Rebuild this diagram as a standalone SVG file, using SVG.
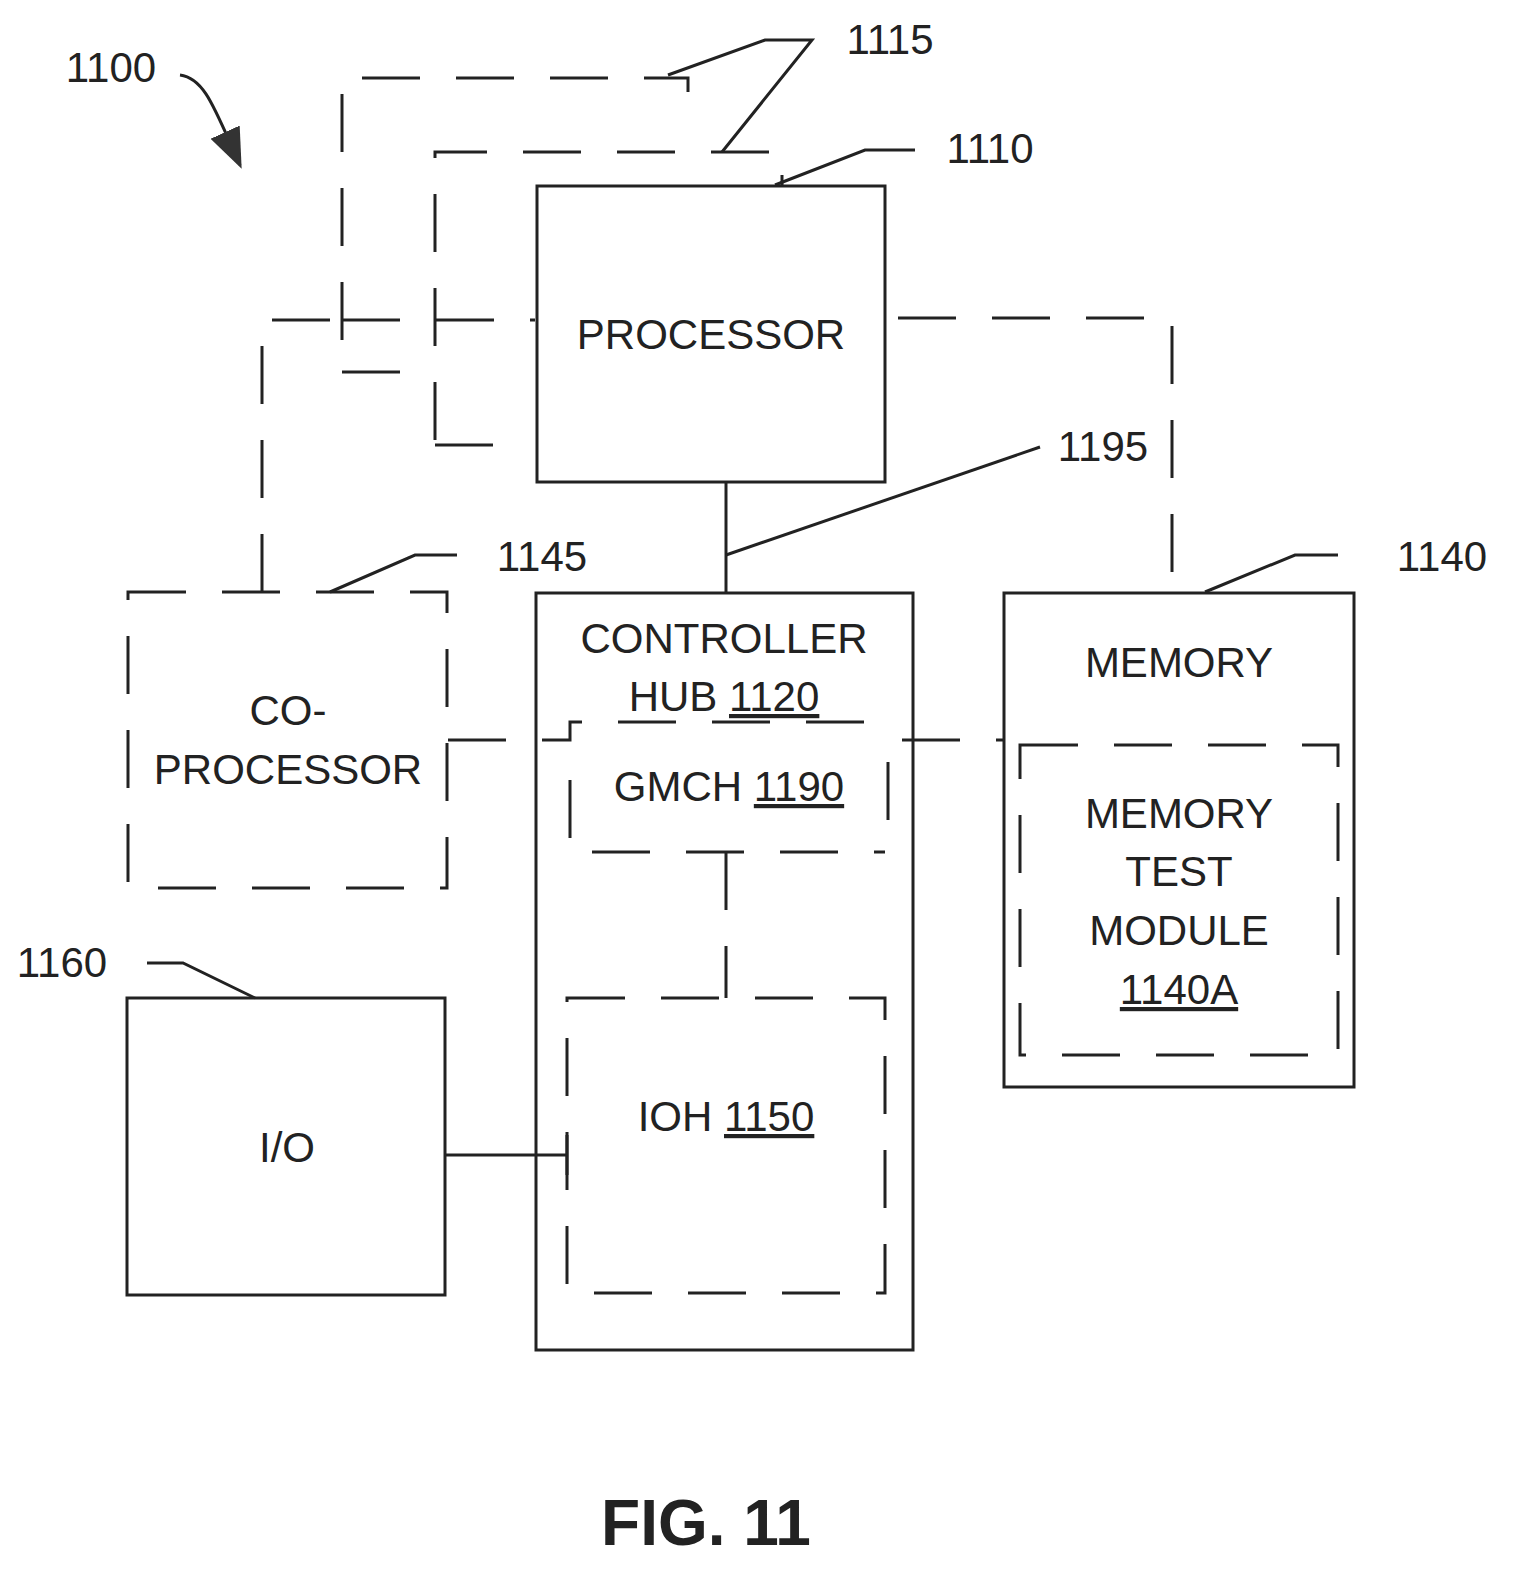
<svg xmlns="http://www.w3.org/2000/svg" width="1527" height="1591" viewBox="0 0 1527 1591">
<style>
.s{fill:none;stroke:#222;stroke-width:3}
.d{fill:none;stroke:#222;stroke-width:3;stroke-dasharray:58 36}
text{font-family:"Liberation Sans",Arial,sans-serif;font-size:42px;fill:#222;text-anchor:middle}
.l{text-anchor:start}
</style>
<defs><marker id="a" markerWidth="10" markerHeight="10" refX="9" refY="5" orient="auto" markerUnits="userSpaceOnUse" viewBox="0 0 10 10"><path d="M0,0L10,5L0,10z" fill="#222"/></marker>
<marker id="ah" viewBox="0 0 10 10" refX="9" refY="5" markerWidth="40" markerHeight="40" markerUnits="userSpaceOnUse" orient="auto"><path d="M0,1L10,5L0,9z" fill="#333"/></marker></defs>
<rect width="1527" height="1591" fill="#fff"/>
<g id="connectors">
<path class="d" d="M342,340V78H688V128"/>
<path class="d" d="M342,372H415"/>
<path class="d" d="M435,440V152H782V185"/>
<path class="d" d="M435,445H510"/>
<path class="d" d="M262,592V320H342"/>
<path class="d" d="M342,320H535"/>
<path class="d" d="M898,318H1172V592"/>
<path class="s" d="M726,483V592"/>
<path class="d" d="M448,740H570V722H865"/>
<path class="d" d="M570,780V852H885"/>
<path class="d" d="M888,820V740H1005"/>
<path class="d" d="M726,852V998"/>
<path class="s" d="M445,1155H567M567,1135V1175"/>
<path class="s" d="M726,555L1040,447"/>
<path class="s" d="M330,592L415,555H457"/>
<path class="s" d="M1205,592L1295,555H1338"/>
<path class="s" d="M255,998L183,963H147"/>
<path class="s" d="M775,185L865,150H915"/>
<path class="s" d="M668,75L765,40H812L722,152"/>
<path class="s" d="M180,75C205,78 215,110 240,165" marker-end="url(#ah)"/>
</g>
<g id="processor"><rect class="s" x="537" y="186" width="348" height="296"/><text x="711" y="349">PROCESSOR</text></g>
<g id="coprocessor"><rect class="d" x="128" y="592" width="319" height="296"/><text x="288" y="725">CO-</text><text x="288" y="784">PROCESSOR</text></g>
<g id="hub"><rect class="s" x="536" y="593" width="377" height="757"/><text x="724" y="653">CONTROLLER</text><text x="724" y="711">HUB <tspan text-decoration="underline">1120</tspan></text></g>
<g id="gmch"><text x="729" y="801">GMCH <tspan text-decoration="underline">1190</tspan></text></g>
<g id="ioh"><rect class="d" x="567" y="998" width="318" height="295"/><text x="726" y="1131">IOH <tspan text-decoration="underline">1150</tspan></text></g>
<g id="io"><rect class="s" x="127" y="998" width="318" height="297"/><text x="287" y="1162">I/O</text></g>
<g id="memory"><rect class="s" x="1004" y="593" width="350" height="494"/><text x="1179" y="677">MEMORY</text>
<rect class="d" x="1020" y="745" width="318" height="310"/>
<text x="1179" y="828">MEMORY</text><text x="1179" y="886">TEST</text><text x="1179" y="945">MODULE</text><text x="1179" y="1004" text-decoration="underline">1140A</text></g>
<g id="labels">
<text x="111" y="82">1100</text><text x="890" y="54">1115</text><text x="990" y="163">1110</text><text x="1103" y="461">1195</text>
<text x="542" y="571">1145</text><text x="1442" y="571">1140</text><text x="62" y="977">1160</text>
<text x="706" y="1545" style="font-size:64px;font-weight:bold">FIG. 11</text>
</g>
</svg>
